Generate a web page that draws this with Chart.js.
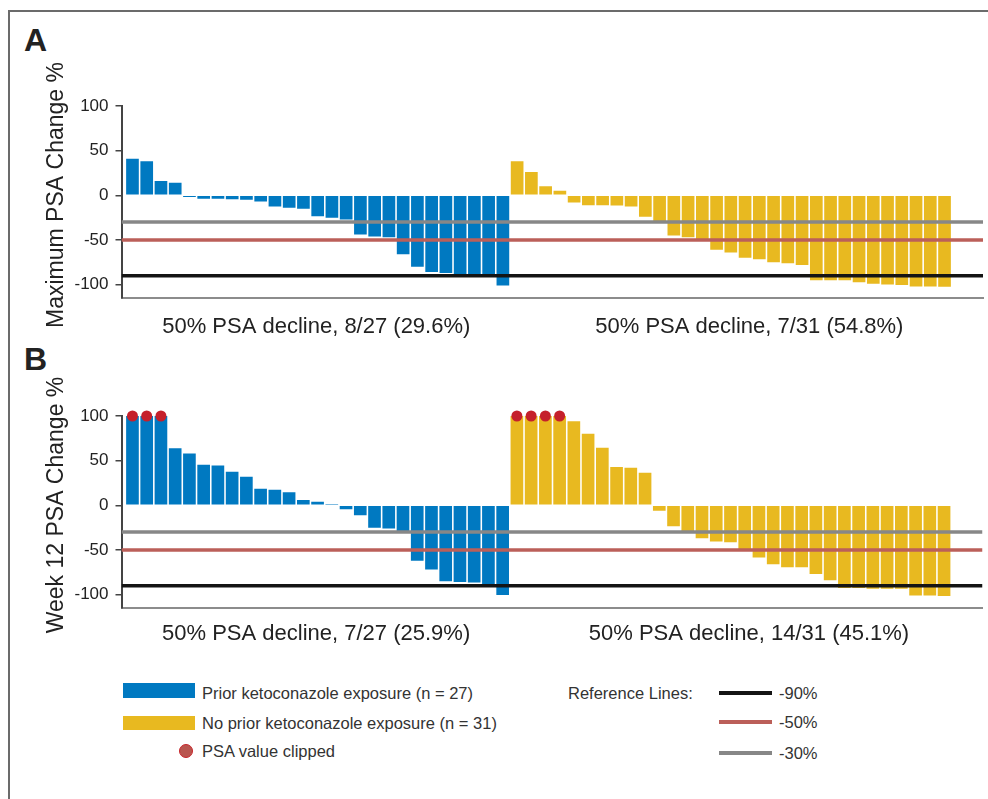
<!DOCTYPE html>
<html>
<head>
<meta charset="utf-8">
<title>PSA change waterfall</title>
<script src="https://cdn.jsdelivr.net/npm/chart.js@4.4.1/dist/chart.umd.min.js"></script>
<style>
  body { margin: 0; background: #fff; font-family: 'Liberation Sans', Arial, sans-serif; color: #222; }
  #page { position: relative; width: 988px; height: 799px; overflow: hidden; }
  .frame { position: absolute; left: 8px; top: 10px; right: -4px; bottom: -4px;
           border-top: 2px solid #6b6b6b; border-left: 2px solid #6b6b6b; }
  canvas { position: absolute; left: 0; }
  .panel { position: absolute; left: 24px; font-weight: bold; font-size: 32px; line-height: 32px; }
  .key { position: absolute; font-size: 16.5px; line-height: 20px; white-space: nowrap; color: #333; }
  .sw { position: absolute; }
</style>
</head>
<body>
<div id="page">
  <div class="frame"></div>
  <div class="panel" style="top:24px">A</div>
  <div class="panel" style="top:343px">B</div>
  <canvas id="chartA" width="988" height="338" style="top:0"></canvas>
  <canvas id="chartB" width="988" height="338" style="top:310px"></canvas>

  <div class="sw" style="left:123px;top:683px;width:72px;height:15px;background:#0079c1"></div>
  <div class="key" style="left:202px;top:683px">Prior ketoconazole exposure (n = 27)</div>
  <div class="sw" style="left:123px;top:716px;width:72px;height:14px;background:#e8b920"></div>
  <div class="key" style="left:202px;top:713px">No prior ketoconazole exposure (n = 31)</div>
  <div class="sw" style="left:179px;top:744px;width:14px;height:14px;border-radius:50%;background:#b9564f;border:1px solid #c8252b;box-sizing:border-box"></div>
  <div class="key" style="left:202px;top:741px">PSA value clipped</div>

  <div class="key" style="left:568px;top:683px">Reference Lines:</div>
  <div class="sw" style="left:719px;top:691px;width:53px;height:4px;background:#141414"></div>
  <div class="key" style="left:779px;top:683px">-90%</div>
  <div class="sw" style="left:719px;top:720px;width:53px;height:4px;background:#bb5f59"></div>
  <div class="key" style="left:779px;top:712px">-50%</div>
  <div class="sw" style="left:719px;top:751px;width:53px;height:4px;background:#878787"></div>
  <div class="key" style="left:779px;top:743px">-30%</div>
</div>

<script>
// values, sorted as in the waterfall
const priorMax = [41, 38, 16, 14, -2, -4, -4, -4.5, -5, -7, -12.5, -14, -15, -23.5, -25, -27,
                  -44, -46, -47, -66, -80, -86, -87, -88, -88, -88, -101];
const noPriorMax = [38, 26, 10, 5, -8, -11, -11, -11.5, -12.5, -24, -29, -45, -47, -50, -61, -64,
                    -70, -71.5, -75, -76, -78, -95, -95, -95, -97.5, -99, -100, -100.5, -102, -102, -102.5];
const priorWk12 = [100, 100, 100, 64, 58, 45.5, 44.5, 37.5, 32, 18.5, 17.5, 14.5, 6, 4, 1.5, -4.5,
                   -11, -25, -26, -29, -62, -72, -85, -86, -86.5, -88, -100.5];
const noPriorWk12 = [100, 100, 100, 100, 94, 80, 64.5, 43, 42, 36.5, -6, -23.5, -30, -37, -40.5, -41.5,
                     -50, -58.5, -66, -69.5, -69.5, -77, -84, -92.5, -92.5, -93.5, -93.5, -93.5, -101, -101, -101.5];

const yTicks = [-100, -50, 0, 50, 100];
const refLevels = [-90, -50, -30];
const refColors = ['#141414', '#bb5f59', '#878787'];
const labelsA = ['50% PSA decline, 8/27 (29.6%)', '50% PSA decline, 7/31 (54.8%)'];
const labelsB = ['50% PSA decline, 7/27 (25.9%)', '50% PSA decline, 14/31 (45.1%)'];
const labelAnchors = [12.9, 43.3];
const clipCap = 100;

const xMin = -0.77, xMax = 59.7;
const FONT = "'Liberation Sans', Arial, sans-serif";

// rotated y title, drawn by hand so it is not squeezed to the axis height
const sideTitle = {
    id: 'sideTitle',
    afterDraw(chart, args, opts) {
        const ctx = chart.ctx;
        ctx.save();
        ctx.translate(opts.x, opts.y);
        ctx.rotate(-Math.PI / 2);
        ctx.font = '23px ' + FONT;
        ctx.fillStyle = '#222';
        ctx.textAlign = 'center';
        ctx.textBaseline = 'middle';
        ctx.fillText(opts.text, 0, 0);
        ctx.restore();
    }
};

function toPoints(vals, start) {
    return vals.map((v, i) => ({ x: start + i, y: v }));
}

function clippedPoints(vals, start) {
    return vals.map((v, i) => v >= clipCap ? { x: start + i, y: clipCap } : null).filter(p => p);
}

function makePanel(id, title, prior, noPrior, labels, labelPad) {
    const refSets = refLevels.map((lv, k) => ({
        type: 'line',
        data: [{ x: xMin, y: lv }, { x: xMax, y: lv }],
        borderColor: refColors[k],
        borderWidth: 3.5,
        pointRadius: 0,
        order: 1
    }));

    new Chart(document.getElementById(id), {
        type: 'bar',
        data: {
            datasets: [
                {
                    type: 'scatter',
                    data: clippedPoints(prior, 0).concat(clippedPoints(noPrior, prior.length)),
                    backgroundColor: '#c5202b',
                    borderWidth: 0,
                    pointRadius: 5.5,
                    clip: false,
                    order: 0
                },
                ...refSets,
                {
                    data: toPoints(prior, 0),
                    backgroundColor: '#0079c1',
                    grouped: false,
                    barPercentage: 0.89,
                    categoryPercentage: 1,
                    order: 2
                },
                {
                    data: toPoints(noPrior, prior.length),
                    backgroundColor: '#e8b920',
                    grouped: false,
                    barPercentage: 0.89,
                    categoryPercentage: 1,
                    order: 2
                }
            ]
        },
        options: {
            responsive: false,
            animation: false,
            events: [],
            layout: { padding: { left: 0, right: 5, top: 106, bottom: 0 } },
            plugins: {
                legend: { display: false },
                tooltip: { enabled: false },
                sideTitle: { text: title, x: 56.5, y: 195 }
            },
            scales: {
                x: {
                    type: 'linear',
                    min: xMin,
                    max: xMax,
                    offset: false,
                    grid: { display: false, drawTicks: false, offset: false },
                    border: { display: true, color: '#8c8c8c', width: 2 },
                    afterBuildTicks: s => { s.ticks = labelAnchors.map(v => ({ value: v })); },
                    afterFit: s => { s.height = 40; },
                    ticks: {
                        autoSkip: false,
                        maxRotation: 0,
                        minRotation: 0,
                        padding: labelPad,
                        color: '#222',
                        font: { size: 22, family: FONT },
                        callback: (v, i) => labels[i]
                    }
                },
                y: {
                    min: -115,
                    max: 100,
                    afterBuildTicks: s => { s.ticks = yTicks.map(v => ({ value: v })); },
                    afterFit: s => { s.width = 121.5; },
                    grid: { drawOnChartArea: false, drawTicks: true, tickLength: 6, color: '#444', lineWidth: 1.5 },
                    border: { display: true, color: '#444', width: 2 },
                    ticks: { padding: 7, color: '#222', font: { size: 17, family: FONT } }
                }
            }
        },
        plugins: [sideTitle]
    });
}

makePanel('chartA', 'Maximum PSA Change %', priorMax, noPriorMax, labelsA, 16);
makePanel('chartB', 'Week 12 PSA Change %', priorWk12, noPriorWk12, labelsB, 13);
</script>
</body>
</html>
